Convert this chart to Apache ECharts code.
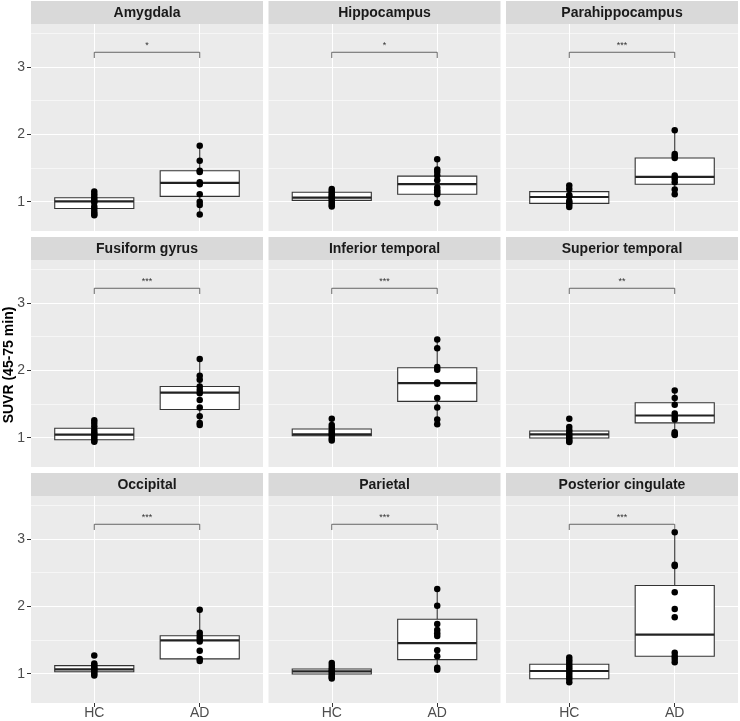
<!DOCTYPE html>
<html><head><meta charset="utf-8">
<script src="https://cdn.jsdelivr.net/npm/echarts@6/dist/echarts.min.js"></script>
<style>html,body{margin:0;padding:0;background:#fff}#c{width:740px;height:721px}</style>
</head><body><div id="c"></div>
<script>
// ---------- data ----------
const regions = ['Amygdala', 'Hippocampus', 'Parahippocampus', 'Fusiform gyrus', 'Inferior temporal', 'Superior temporal', 'Occipital', 'Parietal', 'Posterior cingulate'];
const groups = ['HC', 'AD'];
const signif = ['*', '*', '***', '***', '***', '**', '***', '***', '***'];
const yTickLabels = [1, 2, 3];
const yMinorLines = [1.5, 2.5, 3.5];
const yAxisTitle = 'SUVR (45-75 min)';

// box stats: [lower whisker, Q1, median, Q3, upper whisker]
const hcBox = [
  [0.80, 0.90, 1.005, 1.06, 1.15],
  [0.93, 1.02, 1.06, 1.14, 1.19],
  [0.92, 0.975, 1.07, 1.15, 1.24],
  [0.94, 0.97, 1.045, 1.14, 1.26],
  [0.96, 1.03, 1.05, 1.13, 1.28],
  [0.935, 0.995, 1.05, 1.10, 1.16],
  [0.975, 1.03, 1.065, 1.12, 1.15],
  [0.93, 0.995, 1.035, 1.07, 1.16],
  [0.875, 0.925, 1.04, 1.14, 1.24]
];
const adBox = [
  [0.81, 1.08, 1.28, 1.46, 1.83],
  [0.98, 1.11, 1.26, 1.38, 1.63],
  [1.11, 1.26, 1.37, 1.65, 2.06],
  [1.19, 1.42, 1.67, 1.76, 2.17],
  [1.20, 1.54, 1.81, 2.04, 2.46],
  [1.04, 1.22, 1.33, 1.52, 1.70],
  [1.18, 1.22, 1.495, 1.565, 1.95],
  [1.06, 1.21, 1.455, 1.81, 2.26],
  [1.17, 1.26, 1.58, 2.31, 3.10]
];
const hcPoints = [
  [1.15, 1.11, 1.07, 1.04, 1.01, 0.99, 0.93, 0.89, 0.85, 0.82, 0.80],
  [1.19, 1.16, 1.13, 1.10, 1.08, 1.06, 1.04, 1.01, 0.98, 0.95, 0.93],
  [1.24, 1.19, 1.10, 1.08, 1.01, 0.99, 0.96, 0.92],
  [1.26, 1.22, 1.17, 1.12, 1.08, 1.05, 1.02, 0.99, 0.96, 0.94],
  [1.28, 1.19, 1.15, 1.11, 1.08, 1.05, 1.03, 0.99, 0.96],
  [1.28, 1.16, 1.11, 1.07, 1.04, 1.01, 0.98, 0.95, 0.935],
  [1.27, 1.15, 1.13, 1.10, 1.08, 1.05, 1.03, 1.00, 0.975],
  [1.16, 1.12, 1.08, 1.05, 1.03, 1.00, 0.97, 0.95, 0.93],
  [1.24, 1.20, 1.16, 1.12, 1.08, 1.04, 1.00, 0.96, 0.92, 0.875]
];
const adPoints = [
  [1.83, 1.61, 1.46, 1.44, 1.29, 1.26, 1.11, 1.00, 0.95, 0.81],
  [1.63, 1.48, 1.44, 1.39, 1.32, 1.21, 1.17, 1.14, 1.11, 0.98],
  [2.06, 1.71, 1.68, 1.65, 1.39, 1.34, 1.29, 1.18, 1.11],
  [2.17, 1.92, 1.86, 1.76, 1.71, 1.66, 1.56, 1.45, 1.32, 1.22, 1.19],
  [2.46, 2.33, 2.05, 2.01, 1.82, 1.80, 1.59, 1.45, 1.27, 1.20],
  [1.70, 1.59, 1.49, 1.36, 1.31, 1.27, 1.08, 1.05, 1.04],
  [1.95, 1.61, 1.56, 1.52, 1.48, 1.34, 1.22, 1.19],
  [2.26, 2.01, 1.74, 1.65, 1.60, 1.56, 1.35, 1.26, 1.09, 1.06],
  [3.10, 2.62, 2.60, 2.21, 1.96, 1.84, 1.31, 1.26, 1.22, 1.17]
];
const bracketY = 3.22;
const bracketTip = 0.085;

// ---------- layout / style ----------
const FONT = "'Liberation Sans', Arial, sans-serif";
const colLeft = [31, 268.5, 506];
const rowTop = [24, 260, 496];
const panelW = 232, panelH = 207, stripH = 23;
const yMin = 0.565, yMax = 3.64;
const xMin = 0.4, xMax = 2.6;
const boxHalf = 0.375;

function renderBox(params, api) {
  const x = api.value(0);
  const vmin = api.value(1), q1 = api.value(2), med = api.value(3), q3 = api.value(4), vmax = api.value(5);
  const top = api.coord([x, vmax]), q3c = api.coord([x, q3]), q1c = api.coord([x, q1]), bot = api.coord([x, vmin]);
  const tl = api.coord([x - boxHalf, q3]), br = api.coord([x + boxHalf, q1]);
  const ml = api.coord([x - boxHalf, med]), mr = api.coord([x + boxHalf, med]);
  const ls = { stroke: '#333333', lineWidth: 1.1 };
  return {
    type: 'group', children: [
      { type: 'line', shape: { x1: top[0], y1: top[1], x2: q3c[0], y2: q3c[1] }, style: ls },
      { type: 'line', shape: { x1: q1c[0], y1: q1c[1], x2: bot[0], y2: bot[1] }, style: ls },
      { type: 'rect', shape: { x: tl[0], y: tl[1], width: br[0] - tl[0], height: br[1] - tl[1] }, style: { fill: '#ffffff', stroke: '#333333', lineWidth: 1.1 } },
      { type: 'line', shape: { x1: ml[0], y1: ml[1], x2: mr[0], y2: mr[1] }, style: { stroke: '#222222', lineWidth: 2.2 } }
    ]
  };
}

function makeBracket(label) {
  return function (params, api) {
    const x1 = api.value(0), x2 = api.value(1), y = api.value(2), yt = api.value(3);
    const a = api.coord([x1, yt]), b = api.coord([x1, y]), c = api.coord([x2, y]), d = api.coord([x2, yt]);
    return {
      type: 'group', children: [
        { type: 'polyline', shape: { points: [a, b, c, d] }, style: { stroke: '#444444', lineWidth: 0.8, fill: null } },
        { type: 'text', x: (b[0] + c[0]) / 2, y: b[1] - 2, style: { text: label, font: '9px ' + FONT, fill: '#333333', textAlign: 'center', textVerticalAlign: 'bottom' } }
      ]
    };
  };
}

const grid = [], xAxis = [], yAxis = [], series = [], graphic = [];
regions.forEach((name, i) => {
  const r = Math.floor(i / 3), c = i % 3;
  grid.push({ left: colLeft[c], top: rowTop[r], width: panelW, height: panelH, show: true, backgroundColor: '#EBEBEB', borderWidth: 0 });
  xAxis.push({
    gridIndex: i, type: 'value', min: xMin, max: xMax,
    axisLine: { show: false },
    axisTick: { show: r === 2, customValues: [1, 2], length: 4, lineStyle: { color: '#333333', width: 1 } },
    axisLabel: { show: r === 2, customValues: [1, 2], formatter: v => groups[Math.round(v) - 1], color: '#4D4D4D', fontSize: 14, fontFamily: FONT, margin: 3 },
    splitLine: { show: true, lineStyle: { color: '#ffffff', width: 1.1 } }
  });
  yAxis.push({
    gridIndex: i, type: 'value', min: yMin, max: yMax,
    axisLine: { show: false },
    axisTick: { show: c === 0, customValues: yTickLabels, length: 4, lineStyle: { color: '#333333', width: 1 } },
    axisLabel: { show: c === 0, customValues: yTickLabels, color: '#4D4D4D', fontSize: 14, fontFamily: FONT, margin: 6 },
    splitLine: { show: true, lineStyle: { color: '#ffffff', width: 1.1 } }
  });
  graphic.push({ type: 'rect', left: colLeft[c], top: rowTop[r] - stripH, shape: { width: panelW, height: stripH }, style: { fill: '#D9D9D9' }, silent: true });
  graphic.push({ type: 'text', x: colLeft[c] + panelW / 2, y: rowTop[r] - stripH / 2 + 0.5, style: { text: name, font: 'bold 14px ' + FONT, fill: '#1A1A1A', textAlign: 'center', textVerticalAlign: 'middle' }, silent: true });
});
regions.forEach((name, i) => {
  yAxis.push({
    gridIndex: i, type: 'value', min: yMin, max: yMax,
    axisLine: { show: false },
    axisTick: { show: false, customValues: yMinorLines },
    axisLabel: { show: false },
    splitLine: { show: true, lineStyle: { color: '#ffffff', width: 0.55 } }
  });
});
regions.forEach((name, i) => {
  series.push({
    type: 'custom', xAxisIndex: i, yAxisIndex: i, renderItem: renderBox, silent: true, z: 2,
    data: [[1].concat(hcBox[i]), [2].concat(adBox[i])]
  });
  series.push({
    type: 'scatter', xAxisIndex: i, yAxisIndex: i, symbolSize: 6.5, itemStyle: { color: '#000000', opacity: 1 }, silent: true, z: 3,
    data: hcPoints[i].map(v => [1, v]).concat(adPoints[i].map(v => [2, v]))
  });
  series.push({
    type: 'custom', xAxisIndex: i, yAxisIndex: i, renderItem: makeBracket(signif[i]), silent: true, z: 4, clip: false,
    data: [[1, 2, bracketY, bracketY - bracketTip]]
  });
});
graphic.push({ type: 'text', x: 9, y: 365, rotation: Math.PI / 2, style: { text: yAxisTitle, font: 'bold 14px ' + FONT, fill: '#000000', textAlign: 'center', textVerticalAlign: 'middle' }, silent: true });

const chart = echarts.init(document.getElementById('c'), null, { renderer: 'canvas' });
chart.setOption({ animation: false, backgroundColor: '#ffffff', grid, xAxis, yAxis, series, graphic });
</script>
</body></html>
